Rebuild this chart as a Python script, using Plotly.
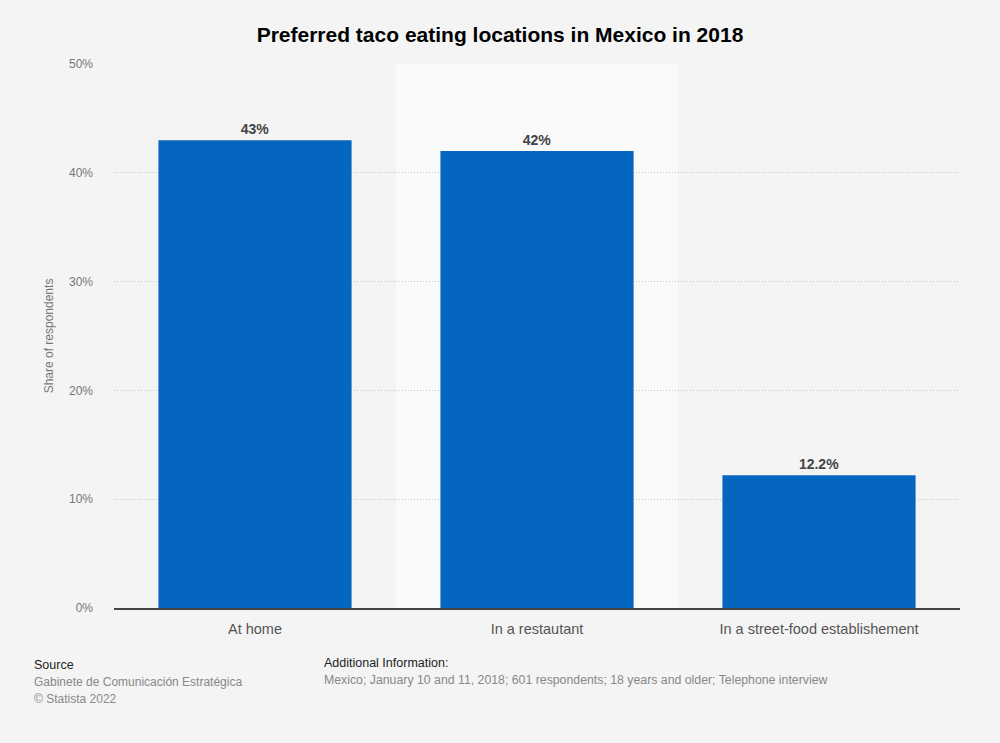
import plotly.graph_objects as go

categories = ["At home", "In a restaurant", "In a street-food establishement"]
tick_labels = ["At home", "In a restautant", "In a street-food establishement"]
values = [43, 42, 12.2]
value_labels = ["43%", "42%", "12.2%"]
y_ticks = [0, 10, 20, 30, 40, 50]
y_tick_labels = ["0%", "10%", "20%", "30%", "40%", "50%"]

FONT = "Liberation Sans, Arial, sans-serif"
BAR = "#0566c0"

fig = go.Figure()
fig.add_trace(go.Bar(
    x=tick_labels, y=values, text=value_labels, textposition="outside",
    textfont=dict(family=FONT, size=14, color="#444444", weight="bold"),
    marker=dict(color=BAR, line=dict(width=0)), width=0.685,
    cliponaxis=False, hoverinfo="skip",
))

fig.add_shape(type="rect", xref="x", yref="paper", x0=0.5, x1=1.5, y0=0, y1=1,
              fillcolor="#fafafa", line=dict(width=0), layer="below")

fig.update_layout(
    width=1000, height=743,
    paper_bgcolor="#f4f4f4", plot_bgcolor="#f4f4f4",
    margin=dict(l=114, r=40, t=64, b=135),
    showlegend=False,
    title=dict(text="<b>Preferred taco eating locations in Mexico in 2018</b>",
               x=0.5, xanchor="center", y=1 - 35 / 743, yanchor="middle",
               font=dict(family=FONT, size=21, color="#000000")),
    font=dict(family=FONT),
    bargap=0.315,
    uniformtext=dict(minsize=8),
)
fig.update_xaxes(
    range=[-0.5, 2.5], showgrid=False, ticks="", ticklabelstandoff=7,
    tickfont=dict(family=FONT, size=14.5, color="#555555"),
    showline=True, linecolor="#444444", linewidth=1.5,
)
fig.update_yaxes(
    range=[0, 50], tickvals=y_ticks, ticktext=y_tick_labels,
    showgrid=True, gridcolor="#c8c8c8", griddash="1px,2px", gridwidth=1,
    zeroline=False, ticks="", ticklabelstandoff=20,
    tickfont=dict(family=FONT, size=12, color="#777777"),
    title=dict(text="Share of respondents", font=dict(family=FONT, size=12, color="#777777"), standoff=12),
)

ann = [
    dict(text="Source", x=32, y=665, size=12.5, color="#222222"),
    dict(text="Gabinete de Comunicación Estratégica", x=32, y=682, size=12, color="#888888"),
    dict(text="© Statista 2022", x=32, y=699, size=12, color="#888888"),
    dict(text="Additional Information:", x=322, y=663, size=12.5, color="#222222"),
    dict(text="Mexico; January 10 and 11, 2018; 601 respondents; 18 years and older; Telephone interview",
         x=322, y=680, size=12.3, color="#888888"),
]
for a in ann:
    fig.add_annotation(text=a["text"], xref="paper", yref="paper",
                       x=(a["x"] - 114) / 846, y=(608 - a["y"]) / 544,
                       xanchor="left", yanchor="middle", showarrow=False,
                       font=dict(family=FONT, size=a["size"], color=a["color"]))

fig.write_html("out.html", config={"displayModeBar": False},
               post_script="document.body.style.margin='0';document.body.style.background='#f4f4f4';")
